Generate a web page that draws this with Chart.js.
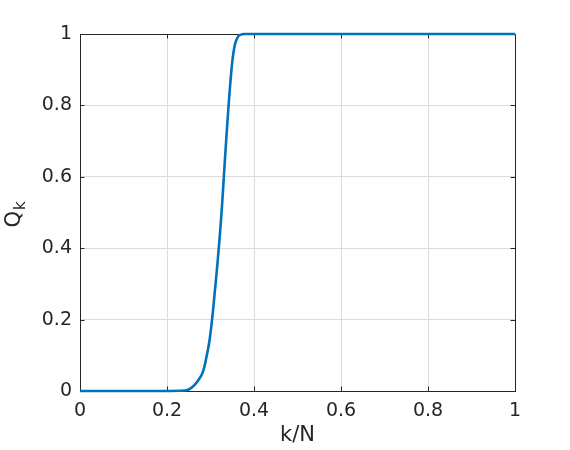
<!DOCTYPE html>
<html>
<head>
<meta charset="utf-8">
<script src="https://cdn.jsdelivr.net/npm/chart.js@4/dist/chart.umd.min.js"></script>
<style>
  html, body { margin: 0; padding: 0; background: #fff; }
  #wrap { width: 570px; height: 450px; }
</style>
</head>
<body>
<div id="wrap"><canvas id="qChart" width="570" height="450"></canvas></div>
<script>
// Data
const kN = [0, 0.1, 0.2, 0.23, 0.245, 0.255, 0.264, 0.272, 0.28, 0.286, 0.291, 0.296, 0.3,
  0.306, 0.31, 0.314, 0.32, 0.326, 0.333, 0.341, 0.349, 0.356, 0.364, 0.372, 0.38, 0.5, 0.7, 1];
const Qk = [0, 0, 0, 0.0005, 0.002, 0.008, 0.018, 0.03, 0.046, 0.068, 0.097, 0.128, 0.162,
  0.228, 0.28, 0.33, 0.415, 0.51, 0.645, 0.79, 0.91, 0.97, 0.994, 0.999, 1, 1, 1, 1];

// Tick labels
const xTicks = [0, 0.2, 0.4, 0.6, 0.8, 1];
const yTicks = [0, 0.2, 0.4, 0.6, 0.8, 1];

const FONT = "'DejaVu Sans', sans-serif";
const INK = "#262626";

const points = kN.map((x, i) => ({ x, y: Qk[i] }));

// box + inward ticks, MATLAB style
const boxPlugin = {
  id: "box",
  beforeDatasetsDraw(chart) {
    const { ctx, chartArea: a, scales } = chart;
    ctx.save();
    ctx.strokeStyle = INK;
    ctx.lineWidth = 1;
    ctx.beginPath();
    xTicks.forEach(t => {
      const px = Math.round(scales.x.getPixelForValue(t)) + 0.5;
      ctx.moveTo(px, a.bottom); ctx.lineTo(px, a.bottom - 4.5);
      ctx.moveTo(px, a.top); ctx.lineTo(px, a.top + 4.5);
    });
    yTicks.forEach(t => {
      const py = Math.round(scales.y.getPixelForValue(t)) + 0.5;
      ctx.moveTo(a.left, py); ctx.lineTo(a.left + 4.5, py);
      ctx.moveTo(a.right, py); ctx.lineTo(a.right - 4.5, py);
    });
    ctx.stroke();
    ctx.strokeRect(a.left + 0.5, a.top + 0.5, a.right - a.left, a.bottom - a.top);
    ctx.restore();
  },
  afterDraw(chart) {
    // y title with subscript
    const { ctx, chartArea: a } = chart;
    const cy = (a.top + a.bottom) / 2;
    ctx.save();
    ctx.translate(20, cy + 15);
    ctx.rotate(-Math.PI / 2);
    ctx.fillStyle = INK;
    ctx.textBaseline = "alphabetic";
    ctx.font = "21px " + FONT;
    ctx.fillText("Q", 0, 0);
    const w = ctx.measureText("Q").width;
    ctx.font = "15px " + FONT;
    ctx.fillText("k", w + 1, 5);
    ctx.restore();
  }
};

new Chart(document.getElementById("qChart"), {
  type: "scatter",
  data: {
    datasets: [{
      data: points,
      showLine: true,
      borderColor: "#0072BD",
      borderWidth: 2.6,
      pointRadius: 0,
      tension: 0.3,
      clip: false
    }]
  },
  options: {
    responsive: false,
    animation: false,
    layout: { padding: { top: 34, right: 55, left: 0, bottom: 0 } },
    plugins: { legend: { display: false }, tooltip: { enabled: false } },
    scales: {
      x: {
        type: "linear", min: 0, max: 1,
        afterFit(s) { s.height = 59; },
        afterBuildTicks(s) { s.ticks = xTicks.map(v => ({ value: v })); },
        grid: { color: "#dcdcdc", drawTicks: false },
        border: { display: false },
        ticks: { color: INK, font: { family: FONT, size: 19 }, padding: 9,
          callback: v => String(v) },
        title: { display: true, text: "k/N", color: INK, font: { family: FONT, size: 21 },
          padding: { top: 0, bottom: 2 } }
      },
      y: {
        type: "linear", min: 0, max: 1,
        afterFit(s) { s.width = 80; },
        afterBuildTicks(s) { s.ticks = yTicks.map(v => ({ value: v })); },
        grid: { color: "#dcdcdc", drawTicks: false },
        border: { display: false },
        ticks: { color: INK, font: { family: FONT, size: 19 }, padding: 8,
          callback: v => String(v) }
      }
    }
  },
  plugins: [boxPlugin]
});
</script>
</body>
</html>
